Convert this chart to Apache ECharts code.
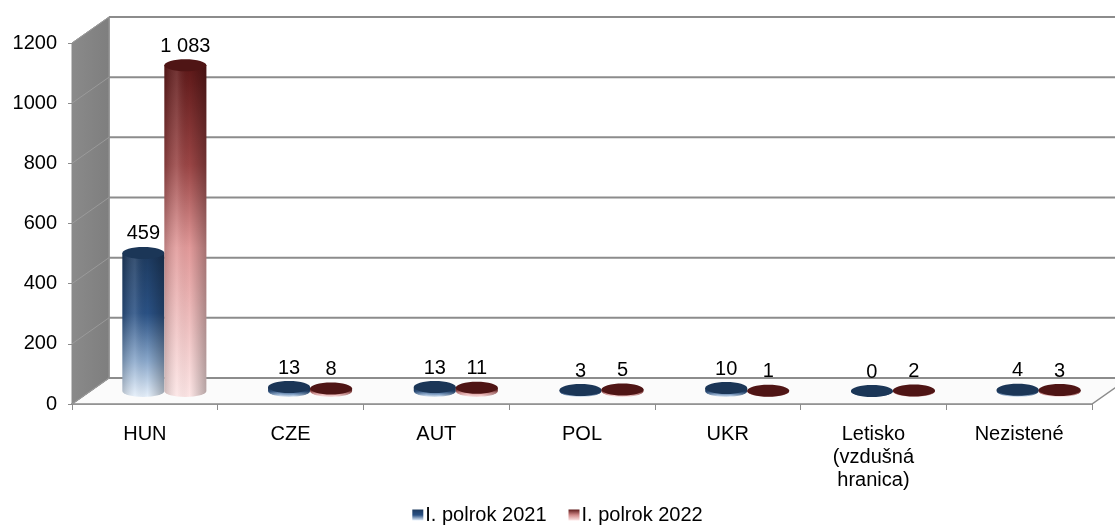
<!DOCTYPE html>
<html><head><meta charset="utf-8">
<script src="https://cdn.jsdelivr.net/npm/echarts@6/dist/echarts.min.js"></script>
<style>html,body{margin:0;padding:0;background:#fff}#c{width:1115px;height:526px}</style>
</head><body><div id="c"></div>
<script>
var categories = ['HUN', 'CZE', 'AUT', 'POL', 'UKR', 'Letisko\n(vzdušná\nhranica)', 'Nezistené'];
var seriesNames = ['I. polrok 2021', 'I. polrok 2022'];
var values2021 = [459, 13, 13, 3, 10, 0, 4];
var values2022 = [1083, 8, 11, 5, 1, 2, 3];
var yTicks = [0, 200, 400, 600, 800, 1000, 1200];

var FONT = '"Liberation Sans", Arial, sans-serif';
var FS = 20;
var DX = 37, DY = -26;   // depth offset of back wall
var BW = 42;             // cylinder width
var RY = 6;              // ellipse half height

function fmt(v) { return String(v).replace(/\B(?=(\d{3})+(?!\d))/g, ' '); }

var palettes = [
  { body: [[0, '#1d3a5f'], [0.42, '#2a5184'], [0.75, '#8aa8cb'], [1, '#e6f0fb']], top: '#1b3657', legend: [[0, '#1d3a5f'], [0.5, '#2a5184'], [1, '#e6f0fb']] },
  { body: [[0, '#5e1818'], [0.3, '#9a4545'], [0.55, '#e29a9a'], [1, '#fde6e6']], top: '#4f1515', legend: [[0, '#5e1818'], [0.5, '#d08888'], [1, '#fde6e6']] }
];

function vgrad(stops) {
  return new echarts.graphic.LinearGradient(0, 0, 0, 1, stops.map(function (s) { return { offset: s[0], color: s[1] }; }));
}

function cylinder(si) {
  return function (params, api) {
    var i = api.value(0), v = api.value(1);
    var base = api.coord([i, 0]);
    var top = api.coord([i, v]);
    var cx = base[0] + DX / 2 + (si === 0 ? -BW / 2 + 1 : BW / 2 + 1);
    var by = base[1] + DY / 2, ty = top[1] + DY / 2;
    var x0 = cx - BW / 2;
    var pal = palettes[si];
    var children = [];
    var pd = 'M' + x0 + ' ' + ty + ' L' + x0 + ' ' + by +
      ' A' + (BW / 2) + ' ' + RY + ' 0 0 0 ' + (x0 + BW) + ' ' + by +
      ' L' + (x0 + BW) + ' ' + ty + ' Z';
    children.push({ type: 'path', shape: { pathData: pd }, style: { fill: vgrad(pal.body) } });
    children.push({
      type: 'path', shape: { pathData: pd },
      style: {
        fill: new echarts.graphic.LinearGradient(0, 0, 1, 0, [
          { offset: 0, color: 'rgba(0,0,0,0.18)' },
          { offset: 0.3, color: 'rgba(255,255,255,0.12)' },
          { offset: 0.6, color: 'rgba(0,0,0,0)' },
          { offset: 1, color: 'rgba(0,0,0,0.28)' }
        ])
      }
    });
    children.push({ type: 'ellipse', shape: { cx: cx, cy: ty, rx: BW / 2, ry: RY }, style: { fill: pal.top } });
    children.push({
      type: 'text',
      style: {
        text: fmt(v), x: cx, y: ty - 9, align: 'center', verticalAlign: 'bottom',
        fill: '#000', font: FS + 'px ' + FONT
      }
    });
    return { type: 'group', children: children };
  };
}

function walls(params, api) {
  var cs = params.coordSys;
  var v = api.value(0);
  var y = api.coord([0, v])[1];
  var L = cs.x, R = cs.x + cs.width;
  var children = [];
  if (params.dataIndex === 0) {
    var yTop = cs.y, yBot = cs.y + cs.height;
    children.push({ type: 'polygon', shape: { points: [[L + DX, yTop + DY], [R + DX + 40, yTop + DY], [R + DX + 40, yBot + DY], [L + DX, yBot + DY]] }, style: { fill: '#fff' } });
    children.push({ type: 'polygon', shape: { points: [[L, yBot], [R, yBot], [R + DX, yBot + DY], [L + DX, yBot + DY]] }, style: { fill: '#fbfbfb', stroke: '#8c8c8c', lineWidth: 1.5 } });
    children.push({ type: 'polygon', shape: { points: [[L, yTop], [L + DX, yTop + DY], [L + DX, yBot + DY], [L, yBot]] },
      style: { fill: new echarts.graphic.LinearGradient(0, 0, 1, 0, [{ offset: 0, color: '#8a8a8a' }, { offset: 1, color: '#7e7e7e' }]), stroke: '#8a8a8a', lineWidth: 1 } });
    children.push({ type: 'line', shape: { x1: L + DX, y1: yTop + DY, x2: L + DX, y2: yBot + DY }, style: { stroke: '#8c8c8c', lineWidth: 1.5 } });
  }
  children.push({ type: 'line', shape: { x1: L + DX, y1: y + DY, x2: R + DX + 40, y2: y + DY }, style: { stroke: '#8c8c8c', lineWidth: 2 } });
  children.push({ type: 'line', shape: { x1: L, y1: y, x2: L + DX, y2: y + DY }, style: { stroke: '#9a9a9a', lineWidth: 1 } });
  return { type: 'group', children: children };
}

var chart = echarts.init(document.getElementById('c'), null, { renderer: 'canvas' });
chart.setOption({
  animation: false,
  backgroundColor: '#fff',
  textStyle: { fontFamily: FONT },
  grid: { left: 72, right: 23, top: 43, bottom: 122 },
  legend: {
    top: 505, left: 'center', padding: 0, itemWidth: 11, itemHeight: 11, itemGap: 22, icon: 'rect',
    textStyle: { fontSize: FS, color: '#000', fontFamily: FONT, padding: [0, 0, 0, -3] },
    data: seriesNames
  },
  xAxis: {
    type: 'category', data: categories,
    axisLine: { show: true, lineStyle: { color: '#8c8c8c', width: 1.5 } },
    axisTick: { show: true, length: 6, lineStyle: { color: '#8c8c8c' } },
    axisLabel: { fontSize: FS, color: '#000', fontFamily: FONT, lineHeight: 23, margin: 19 },
    splitLine: { show: false }
  },
  yAxis: {
    type: 'value', min: 0, max: 1200, interval: 200,
    axisLine: { show: true, lineStyle: { color: '#8c8c8c', width: 1 } },
    axisTick: { show: true, length: 4, lineStyle: { color: '#8c8c8c' } },
    axisLabel: { fontSize: FS, color: '#000', fontFamily: FONT, margin: 15, formatter: function (v) { return String(v); } },
    splitLine: { show: false }
  },
  series: [
    { type: 'custom', name: 'walls', z: 1, silent: true, renderItem: walls, data: yTicks.map(function (t) { return [t]; }), encode: { y: 0 } },
    { type: 'custom', name: seriesNames[0], z: 5, renderItem: cylinder(0), itemStyle: { color: vgrad(palettes[0].legend) },
      data: values2021.map(function (v, i) { return [i, v]; }), encode: { x: 0, y: 1 } },
    { type: 'custom', name: seriesNames[1], z: 5, renderItem: cylinder(1), itemStyle: { color: vgrad(palettes[1].legend) },
      data: values2022.map(function (v, i) { return [i, v]; }), encode: { x: 0, y: 1 } }
  ]
});
</script>
</body></html>
